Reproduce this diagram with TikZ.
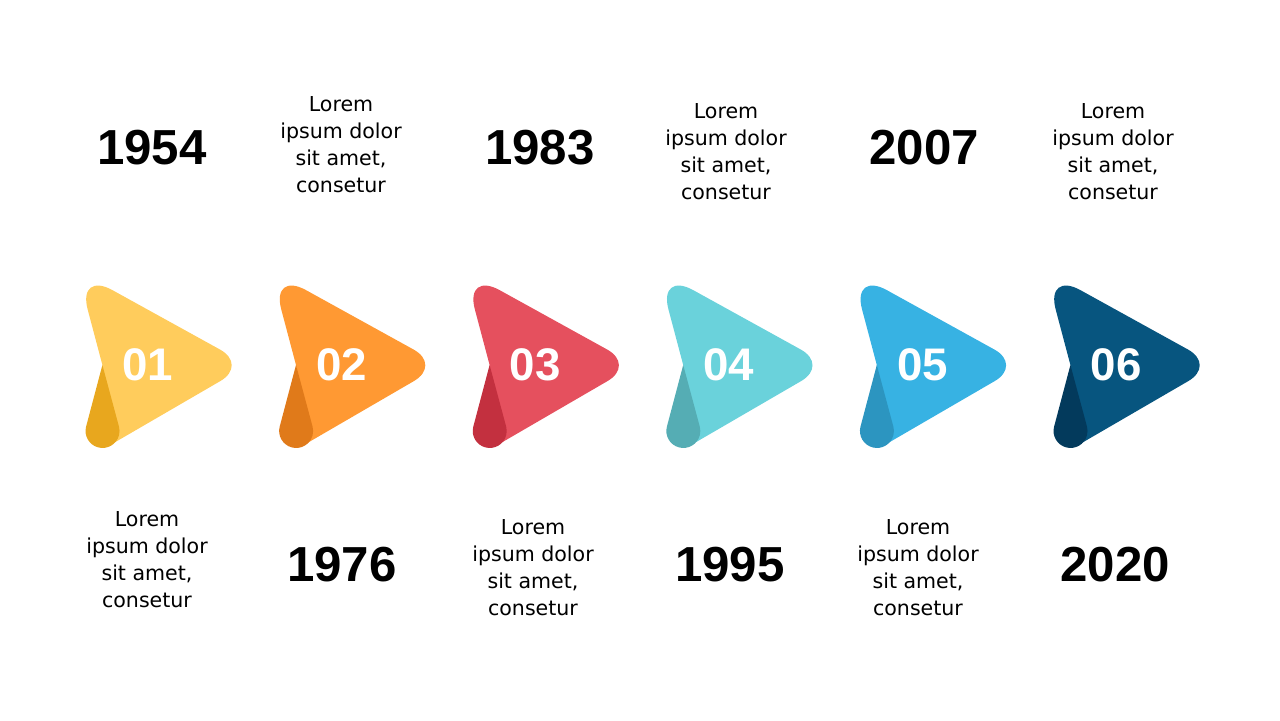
\documentclass[tikz,border=0pt]{standalone}
\usepackage{fontspec}
\setmainfont{DejaVu Sans}
\newfontfamily\numfont{Liberation Sans}
% arrow colours, light face and dark flap
\definecolor{faceA}{HTML}{FFCC5C} \definecolor{flapA}{HTML}{E8A71E}
\definecolor{faceB}{HTML}{FF9933} \definecolor{flapB}{HTML}{E07A1A}
\definecolor{faceC}{HTML}{E5505E} \definecolor{flapC}{HTML}{C3303F}
\definecolor{faceD}{HTML}{6AD2DB} \definecolor{flapD}{HTML}{55ADB4}
\definecolor{faceE}{HTML}{37B2E3} \definecolor{flapE}{HTML}{2C95C0}
\definecolor{faceF}{HTML}{07557F} \definecolor{flapF}{HTML}{033A5C}
\tikzset{
  lorem/.style={align=center, font=\fontsize{11.7}{15.4}\selectfont},
  year/.style={font=\numfont\bfseries\fontsize{28}{30}\selectfont},
  badge/.style={text=white, font=\numfont\bfseries\fontsize{26}{28}\selectfont}
}
\begin{document}
\begin{tikzpicture}[x=0.02cm,y=0.02cm]
   \useasboundingbox (0,0) rectangle (1280,720);
   % arrows
   \foreach \i/\cx/\face/\flap in {1/148/faceA/flapA, 2/341.6/faceB/flapB, 3/535.2/faceC/flapC,
                                  4/728.8/faceD/flapD, 5/922.4/faceE/flapE, 6/1116/faceF/flapF}{
     \begin{scope}[shift={(\cx,355)}]
       \fill[\face] (-45.6,0) [rounded corners=0.8cm] -- (-70.6,94.2) [rounded corners=0.64cm]
                    -- (100,0) [sharp corners] -- (-36,-79) -- cycle;
       \fill[\flap] (-45.6,0) -- (-61.9,-61.6) arc[start angle=165.1, end angle=374.9, radius=17] -- cycle;
       \node[badge] (b\i) at (0,0) {0\i};
     \end{scope}
   }
   % top row
   \node[year]  (y1) at (152,572) {1954};
   \node[lorem] (t2) at (341,575) {Lorem\\ipsum dolor\\sit amet,\\consetur};
   \node[year]  (y3) at (540,572) {1983};
   \node[lorem] (t4) at (726,568) {Lorem\\ipsum dolor\\sit amet,\\consetur};
   \node[year]  (y5) at (924,572) {2007};
   \node[lorem] (t6) at (1113,568) {Lorem\\ipsum dolor\\sit amet,\\consetur};
   % bottom row
   \node[lorem] (t1) at (147,160) {Lorem\\ipsum dolor\\sit amet,\\consetur};
   \node[year]  (y2) at (342,155) {1976};
   \node[lorem] (t3) at (533,152) {Lorem\\ipsum dolor\\sit amet,\\consetur};
   \node[year]  (y4) at (730,155) {1995};
   \node[lorem] (t5) at (918,152) {Lorem\\ipsum dolor\\sit amet,\\consetur};
   \node[year]  (y6) at (1115,155) {2020};
\end{tikzpicture}
\end{document}
